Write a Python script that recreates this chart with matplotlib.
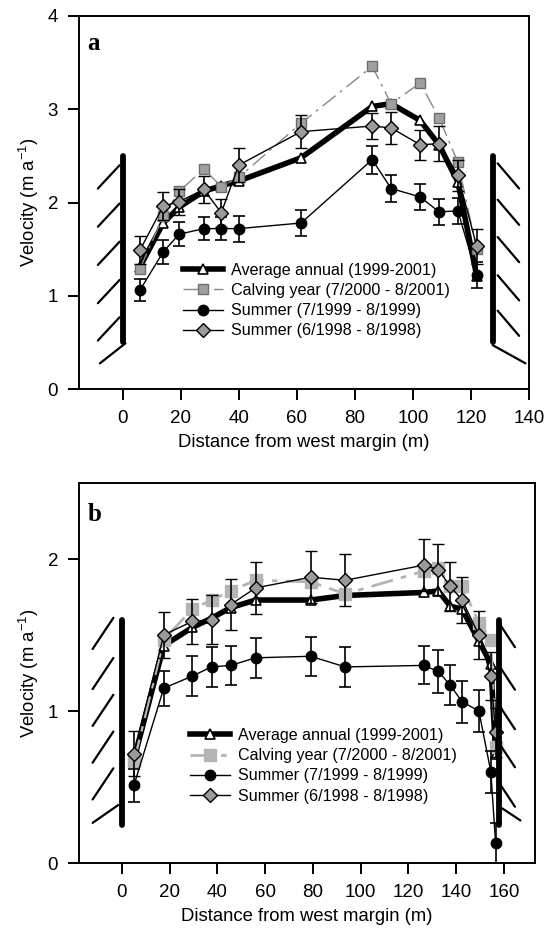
import matplotlib
matplotlib.use("Agg")
import matplotlib.pyplot as plt
from matplotlib.lines import Line2D

plt.rcParams['font.family'] = ['Liberation Sans', 'DejaVu Sans']
plt.rcParams['mathtext.fontset'] = 'custom'
plt.rcParams['mathtext.rm'] = 'Liberation Sans'
plt.rcParams['mathtext.it'] = 'Liberation Sans:italic'

# ---------------- data ----------------
labels = ["Average annual (1999-2001)", "Calving year (7/2000 - 8/2001)",
          "Summer (7/1999 - 8/1999)", "Summer (6/1998 - 8/1998)"]

# panel a
xa = [6, 14, 19.5, 28, 34, 40, 61.5, 86, 92.5, 102.5, 109, 115.5, 122]
a_avg = [1.31, 1.78, 1.95, 2.12, 2.18, 2.23, 2.48, 3.03, 3.06, 2.88, 2.62, 2.22, 1.21]
a_calv = [1.29, 1.85, 2.12, 2.36, 2.17, 2.27, 2.85, 3.46, 3.06, 3.28, 2.91, 2.43, 1.50]
a_s99 = [1.06, 1.47, 1.66, 1.72, 1.72, 1.72, 1.78, 2.46, 2.15, 2.06, 1.90, 1.91, 1.22]
a_s98 = [1.49, 1.96, 2.01, 2.14, 1.89, 2.40, 2.76, 2.82, 2.80, 2.62, 2.63, 2.29, 1.53]
a_s99_err = [0.12, 0.13, 0.13, 0.12, 0.12, 0.14, 0.14, 0.15, 0.14, 0.14, 0.14, 0.14, 0.14]
a_s98_err = [0.15, 0.15, 0.14, 0.14, 0.15, 0.18, 0.18, 0.14, 0.17, 0.16, 0.19, 0.17, 0.19]

# panel b
xb = [5, 17.5, 29.5, 37.5, 45.5, 56, 79, 93.5, 126.5, 132.5, 137.5, 142.5, 149.5, 154.5, 156.5]
b_avg = [0.68, 1.43, 1.55, 1.61, 1.68, 1.73, 1.73, 1.76, 1.78, 1.79, 1.69, 1.67, 1.46, 1.31, 0.72]
b_calv = [0.67, 1.47, 1.67, 1.73, 1.79, 1.86, 1.85, 1.77, 1.92, 1.94, 1.82, 1.82, 1.58, 1.47, 0.76]
b_s99 = [0.51, 1.15, 1.23, 1.29, 1.30, 1.35, 1.36, 1.29, 1.30, 1.26, 1.17, 1.06, 1.00, 0.60, 0.13]
b_s98 = [0.72, 1.50, 1.59, 1.60, 1.70, 1.81, 1.88, 1.86, 1.96, 1.93, 1.82, 1.73, 1.50, 1.23, 0.86]
b_s99_err = [0.11, 0.115, 0.13, 0.13, 0.13, 0.13, 0.13, 0.13, 0.125, 0.14, 0.13, 0.14, 0.14, 0.14, 0.13]
b_s98_err = [0.15, 0.15, 0.15, 0.16, 0.17, 0.17, 0.17, 0.17, 0.17, 0.17, 0.16, 0.15, 0.16, 0.16, 0.16]

a_yticks = [0, 1, 2, 3, 4]
a_xticks = [0, 20, 40, 60, 80, 100, 120, 140]
b_yticks = [0, 1, 2]
b_xticks = [0, 20, 40, 60, 80, 100, 120, 140, 160]

# ---------------- figure ----------------
W, H = 551, 935
fig = plt.figure(figsize=(W / 100, H / 100), dpi=100)
ax1 = fig.add_axes([79 / W, 1 - 389 / H, 450 / W, 373 / H])
ax2 = fig.add_axes([79 / W, 1 - 863 / H, 456 / W, 380 / H])

TICK_FS = 13.5
LAB_FS = 13.3
LEG_FS = 11.6


def style_axes(ax):
    for s in ax.spines.values():
        s.set_linewidth(1.4)
    ax.tick_params(direction='out', length=8, width=1.4, labelsize=TICK_FS, pad=7)
    ax.set_xlabel("Distance from west margin (m)", fontsize=LAB_FS, labelpad=5)
    ax.set_ylabel(r"Velocity (m a$^{\mathregular{-1}}$)", fontsize=LAB_FS, labelpad=5)


def draw_panel(ax, x, avg, calv, s99, s98, e99, e98, calv_style):
    ax.plot(x, avg, '-', color='k', lw=4, marker='^', ms=7, mfc='white', mec='k',
            mew=1.2, zorder=3, solid_joinstyle='round')
    ax.plot(x, calv, marker='s', zorder=4, **calv_style)
    ax.errorbar(x, s99, yerr=e99, fmt='o-', color='k', mfc='k', mec='k', ms=7.5, lw=1,
                elinewidth=1.2, capsize=4, capthick=1.2, zorder=5)
    ax.errorbar(x, s98, yerr=e98, fmt='D-', color='k', mfc='#9a9a9a', mec='k', ms=7, lw=1,
                mew=1, elinewidth=1.2, capsize=4, capthick=1.2, zorder=6)


calv_a = dict(color='#888888', lw=1, dashes=(12, 4, 2, 4), ms=7, mfc='#a0a0a0', mec='#6e6e6e', mew=1)
calv_b = dict(color='#b4b4b4', lw=2, dashes=(8, 3, 2, 3), ms=8, mfc='#b4b4b4', mec='#b4b4b4', mew=1)

draw_panel(ax1, xa, a_avg, a_calv, a_s99, a_s98, a_s99_err, a_s98_err, calv_a)
draw_panel(ax2, xb, b_avg, b_calv, b_s99, b_s98, b_s99_err, b_s98_err, calv_b)


def wall(ax, xw, y0, y1, tops, dx0, dx1, dy, last, lw_wall=4.2):
    """Margin wall: thick bar plus short hatch strokes (decoration)."""
    ax.plot([xw, xw], [y0, y1], color='k', lw=lw_wall, solid_capstyle='round', zorder=10)
    for t in tops:
        ax.plot([xw + dx0, xw + dx1], [t, t - dy], color='k', lw=1.6, zorder=10,
                solid_capstyle='round')
    ax.plot(last[0], last[1], color='k', lw=1.6, zorder=10, solid_capstyle='round')


# panel a walls
wall(ax1, 0, 0.5, 2.5, [2.40, 1.99, 1.58, 1.17, 0.77], -1.0, -8.5, 0.25,
     ([-7.8, 1.0], [0.275, 0.49]))
wall(ax1, 127.7, 0.5, 2.5, [2.42, 2.03, 1.63, 1.22, 0.84], 1.5, 8.9, 0.27,
     ([127.5, 138.8], [0.47, 0.275]))
# panel b walls
wall(ax2, 0, 0.25, 1.6, [1.613, 1.349, 1.107, 0.865, 0.623], -3.6, -12.3, 0.205,
     ([-12.3, -1.6], [0.264, 0.381]))
wall(ax2, 157.8, 0.25, 1.6, [1.57, 1.29, 1.03, 0.78, 0.52], 0.5, 6.8, 0.15,
     ([159.2, 166.9], [0.36, 0.28]))

ax1.set_xlim(-15, 140)
ax1.set_ylim(0, 4)
ax1.set_xticks(a_xticks)
ax1.set_yticks(a_yticks)
ax2.set_xlim(-18, 173)
ax2.set_ylim(0, 2.5)
ax2.set_xticks(b_xticks)
ax2.set_yticks(b_yticks)
style_axes(ax1)
style_axes(ax2)


def legend(ax, calv_style, anchor):
    h = [Line2D([], [], color='k', lw=4, marker='^', ms=7, mfc='white', mec='k', mew=1.2),
         Line2D([], [], marker='s', **calv_style),
         Line2D([], [], color='k', lw=1, marker='o', ms=7.5, mfc='k', mec='k'),
         Line2D([], [], color='k', lw=1, marker='D', ms=7, mfc='#9a9a9a', mec='k')]
    ax.legend(h, labels, loc='upper left', bbox_to_anchor=anchor, frameon=False,
              fontsize=LEG_FS, handlelength=2.5, handletextpad=0.5, labelspacing=0.32,
              borderpad=0, borderaxespad=0, numpoints=1)


legend(ax1, calv_a, (0.231, 0.338))
legend(ax2, calv_b, (0.243, 0.355))

ax1.text(0.018, 0.957, 'a', transform=ax1.transAxes, ha='left', va='top',
         fontsize=18, fontweight='bold', family='Liberation Serif')
ax2.text(0.02, 0.947, 'b', transform=ax2.transAxes, ha='left', va='top',
         fontsize=18, fontweight='bold', family='Liberation Serif')

fig.savefig('out.png', dpi=100)
